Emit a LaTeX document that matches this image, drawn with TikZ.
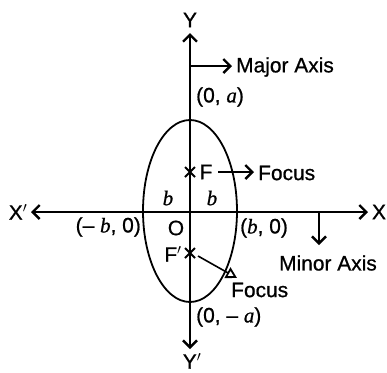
\documentclass[tikz,border=0pt]{standalone}
\usepackage{fontspec}
\setmainfont{Liberation Sans}[BoldFont=Liberation Sans, BoldFeatures={FakeBold=0.8}]
\newfontfamily\serifit{Liberation Serif}[BoldFont=Liberation Serif, BoldItalicFont=Liberation Serif Italic, BoldItalicFeatures={FakeBold=0.8}]
\usetikzlibrary{arrows.meta,calc}
\newcommand{\vi}[1]{{\serifit\itshape #1}}
\tikzset{
  lbl/.style={inner sep=0pt, font=\fontsize{21}{24}\selectfont\bfseries},
  axis/.style={line width=1.7pt, -{Straight Barb[length=7pt,width=14pt,line width=2.4pt]}},
  ptr/.style={line width=1.6pt, -{Straight Barb[length=7pt,width=14pt,line width=2.4pt]}},
  optr/.style={line width=1.6pt, -{Triangle[open,length=11pt,width=12pt,line width=1.8pt]}},
  curve/.style={line width=1.8pt},
  cross/.style={line width=1.8pt}
}
\begin{document}
\begin{tikzpicture}[x=1bp,y=-1bp]
\useasboundingbox (0,0) rectangle (387,373);
% centre
\coordinate (O) at (190,212);
\coordinate (ytop) at (190,33);
\coordinate (ybot) at (190,349);
\coordinate (xl) at (31,212);
\coordinate (xr) at (368,212);
% axes
\draw[axis] (O) -- (ytop);
\draw[axis] (O) -- (ybot);
\draw[axis] (O) -- (xl);
\draw[axis] (O) -- (xr);
% ellipse
\draw[curve] (190,211) ellipse [x radius=47, y radius=91];
% axis labels
\node[lbl] (Y) at (190,20) {Y};
\node[lbl] (Yp) at (192,361) {Y$'$};
\node[lbl] (Xp) at (18,212) {X$'$};
\node[lbl] (X) at (379,212) {X};
% major axis
\coordinate (maj0) at (190,66);
\coordinate (maj1) at (232,66);
\draw[ptr] (maj0) -- (maj1);
\node[lbl, anchor=west] (major) at (236,67) {Major Axis};
% (0,a)
\node[lbl, anchor=west] (pa) at (196,97) {(0, \vi{a})};
\node[lbl, anchor=west] (pma) at (196,317) {(0, -- \vi{a})};
% foci
\coordinate (F) at (190,172);
\coordinate (Fp) at (190,253);
\draw[cross] ($(F)+(-5,-5)$) -- ($(F)+(5,5)$) ($(F)+(-5,5)$) -- ($(F)+(5,-5)$);
\draw[cross] ($(Fp)+(-5,-5)$) -- ($(Fp)+(5,5)$) ($(Fp)+(-5,5)$) -- ($(Fp)+(5,-5)$);
\node[lbl] (Flab) at (206,172) {F};
\node[lbl] (Fplab) at (173,254) {F$'$};
\coordinate (fa0) at (218,172);
\coordinate (fa1) at (254,172);
\draw[ptr] (fa0) -- (fa1);
\node[lbl, anchor=west] (focus1) at (258,173) {Focus};
\coordinate (fb0) at (198,256);
\coordinate (fb1) at (237,278);
\draw[optr] (fb0) -- (fb1);
\node[lbl, anchor=west] (focus2) at (231,290) {Focus};
% b labels
\node[lbl] (b1) at (168,198) {\vi{b}};
\node[lbl] (b2) at (212,198) {\vi{b}};
\node[lbl] (Olab) at (176,228) {O};
\node[lbl, anchor=east] (mb) at (141,227) {(-- \vi{b}, 0)};
\node[lbl, anchor=west] (pb) at (240,228) {(\vi{b}, 0)};
% minor axis
\coordinate (min0) at (319,212);
\coordinate (min1) at (319,245);
\draw[ptr] (min0) -- (min1);
\node[lbl] (minor) at (328,263) {Minor Axis};
\end{tikzpicture}
\end{document}
